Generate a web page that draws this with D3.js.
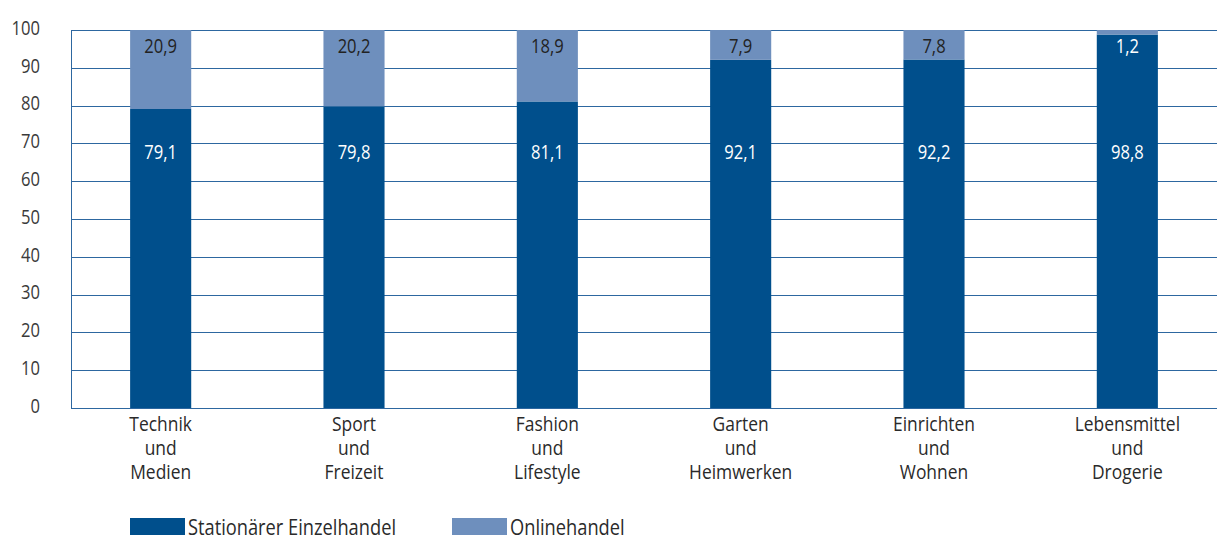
<!DOCTYPE html>
<html>
<head>
<meta charset="utf-8">
<script src="https://cdn.jsdelivr.net/npm/d3@7"></script>
<style>
  body { margin: 0; background: #fff; }
  svg text { font-family: "Open Sans", "Noto Sans", sans-serif; }
</style>
</head>
<body>
<svg id="chart" width="1217" height="538"></svg>
<script>
// data
const categories = [
  ['Technik', 'und', 'Medien'],
  ['Sport', 'und', 'Freizeit'],
  ['Fashion', 'und', 'Lifestyle'],
  ['Garten', 'und', 'Heimwerken'],
  ['Einrichten', 'und', 'Wohnen'],
  ['Lebensmittel', 'und', 'Drogerie']
];
const stationaer = [79.1, 79.8, 81.1, 92.1, 92.2, 98.8];
const online = [20.9, 20.2, 18.9, 7.9, 7.8, 1.2];
const seriesNames = ['Stationärer Einzelhandel', 'Onlinehandel'];
const yTicks = [0, 10, 20, 30, 40, 50, 60, 70, 80, 90, 100];

const colors = ['#004f8c', '#6e8fbd'];
const fmt = v => String(v).replace('.', ',');
const squeeze = 0.85; // reference font is a condensed humanist face

const svg = d3.select('#chart');

const x = d3.scaleBand()
  .domain(d3.range(categories.length))
  .range([64, 1224])
  .paddingInner(0.684)
  .paddingOuter(0.342);

const y = d3.scaleLinear()
  .domain([0, 100])
  .range([408, 30]);

// places a condensed text at (px, py)
function label(g, px, py, str, size, fill, anchor) {
  return g.append('text')
    .attr('transform', `translate(${px},${py}) scale(${squeeze},1)`)
    .attr('dy', '0.35em')
    .attr('text-anchor', anchor)
    .attr('font-size', size)
    .attr('fill', fill)
    .text(str);
}

// gridlines
svg.append('g')
  .selectAll('line')
  .data(yTicks)
  .join('line')
  .attr('x1', 71)
  .attr('x2', 1217)
  .attr('y1', d => Math.round(y(d)) + 0.5)
  .attr('y2', d => Math.round(y(d)) + 0.5)
  .attr('stroke', '#2d67a0')
  .attr('stroke-width', 1);

// left axis line
svg.append('line')
  .attr('x1', 71.5).attr('x2', 71.5)
  .attr('y1', y(100)).attr('y2', y(0) + 1)
  .attr('stroke', '#2d67a0');

// y tick labels
const yl = svg.append('g');
yTicks.forEach(t => label(yl, 40, y(t) - 2, t, 19.5, '#3a3a3a', 'end'));

// bars
const bars = svg.append('g');
categories.forEach((c, i) => {
  bars.append('rect')
    .attr('x', x(i))
    .attr('width', x.bandwidth())
    .attr('y', y(stationaer[i]))
    .attr('height', y(0) - y(stationaer[i]))
    .attr('fill', colors[0]);
  bars.append('rect')
    .attr('x', x(i))
    .attr('width', x.bandwidth())
    .attr('y', y(stationaer[i] + online[i]))
    .attr('height', y(stationaer[i]) - y(stationaer[i] + online[i]))
    .attr('fill', colors[1]);
});

// value labels
const vl = svg.append('g');
stationaer.forEach((v, i) =>
  label(vl, x(i) + x.bandwidth() / 2, y(67.6), fmt(v), 19.5, '#fff', 'middle'));
online.forEach((v, i) =>
  label(vl, x(i) + x.bandwidth() / 2, y(95.8), fmt(v), 19.5, v < 3 ? '#fff' : '#222', 'middle'));

// category labels
const cat = svg.append('g');
categories.forEach((lines, i) => {
  lines.forEach((l, j) =>
    label(cat, x(i) + x.bandwidth() / 2, 424 + j * 24, l, 20.5, '#2a2a2a', 'middle'));
});

// legend
const legendX = [130, 452];
const legend = svg.append('g');
seriesNames.forEach((n, i) => {
  legend.append('rect')
    .attr('x', legendX[i])
    .attr('y', 518)
    .attr('width', 55)
    .attr('height', 17)
    .attr('fill', colors[i]);
  label(legend, legendX[i] + 58, 527, n, 21.5, '#2a2a2a', 'start');
});
</script>
</body>
</html>
